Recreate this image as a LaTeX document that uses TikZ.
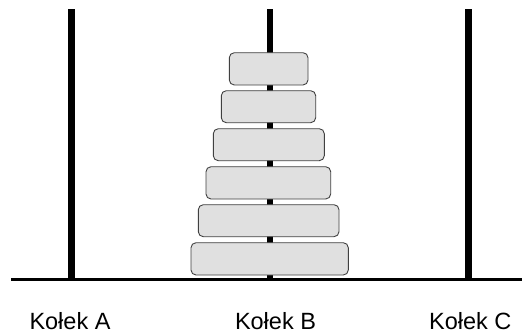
\documentclass[tikz,border=0pt]{standalone}
\usepackage{fontspec}
\setmainfont{Liberation Sans}
\begin{document}
\begin{tikzpicture}[x=1pt,y=-1pt,
  pole/.style={fill=black,draw=none},
  disk/.style={draw=black!75,fill=black!12,line width=0.9pt,rounded corners=5pt},
  lbl/.style={font=\fontsize{23.5}{26}\selectfont,anchor=base,inner sep=0pt,text depth=0pt}]
\useasboundingbox (0,0) rectangle (522,332);
% poles
\fill[pole] (67.8,9) rectangle (74.6,280) coordinate (pa);
\fill[pole] (266.6,9) rectangle (273.4,280) coordinate (pb);
\fill[pole] (465.4,9) rectangle (472.2,280) coordinate (pc);
% ground
\draw[line width=2.6pt] (11,279.5) coordinate (g1) -- (522,279.5) coordinate (g2);
% disks
\foreach \i/\l/\r/\t/\b in {1/229.3/308/52.7/85, 2/221.3/315.7/90.7/122.7, 3/213.3/324.3/128.7/160.7, 4/206/330.7/166.7/199, 5/198.3/339/204.7/236.7, 6/191/348.3/242.7/275}
  \draw[disk] (\l,\t) rectangle (\r,\b) node[pos=0.5] (d\i) {};
% labels
\node[lbl] (la) at (70,329.3) {Kołek A};
\node[lbl] (lb) at (275.5,329.3) {Kołek B};
\node[lbl] (lc) at (470.3,329.3) {Kołek C};
\end{tikzpicture}
\end{document}
